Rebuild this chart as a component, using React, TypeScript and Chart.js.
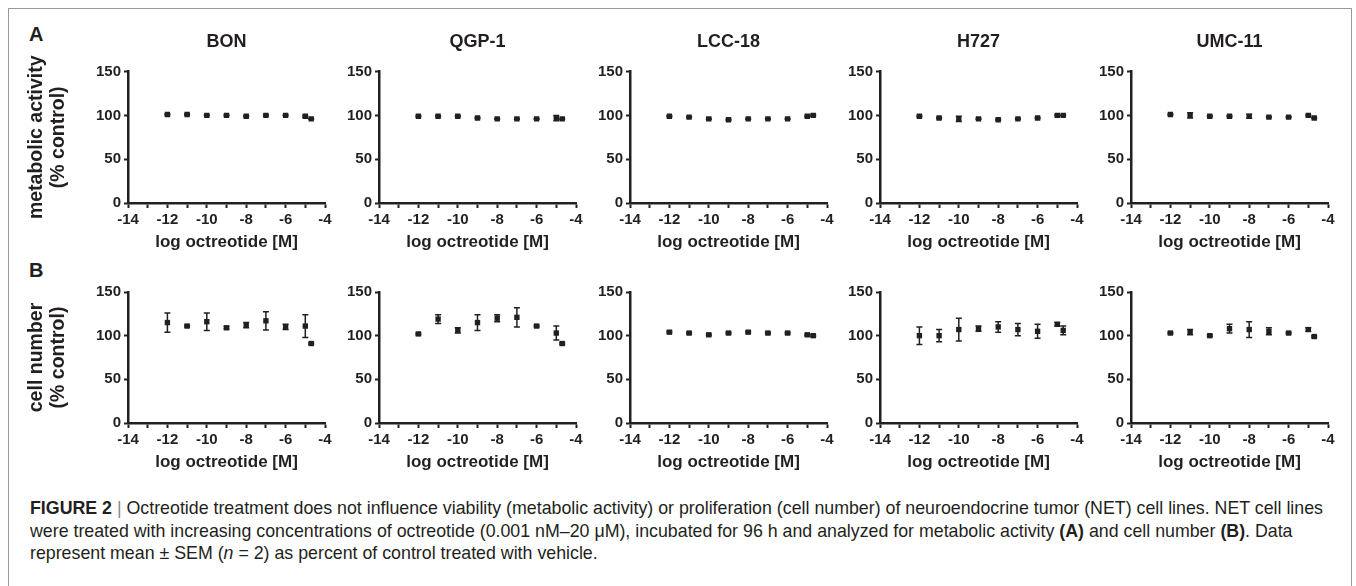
import React, { useEffect, useRef } from "react";
import { Chart, registerables } from "chart.js";

Chart.register(...registerables);

// ---------- data ----------
const cellLines = ["BON", "QGP-1", "LCC-18", "H727", "UMC-11"];
const logConc = [-12, -11, -10, -9, -8, -7, -6, -5, -4.7];
const xMin = -14;
const xMax = -4;
const yMax = 150;

// A: metabolic activity (% control), mean and SEM
const metabolicBON = [101, 101, 100, 100, 99, 100, 100, 99, 96];
const metabolicBONSem = [0.5, 0.5, 0.5, 0.5, 0.5, 0.5, 0.5, 1, 0.5];
const metabolicQGP1 = [99, 99, 99, 97, 96, 96, 96, 97, 96];
const metabolicQGP1Sem = [0.5, 0.5, 0.5, 0.5, 0.5, 0.5, 0.5, 3, 0.5];
const metabolicLCC18 = [99, 98, 96, 95, 96, 96, 96, 99, 100];
const metabolicLCC18Sem = [0.5, 0.5, 0.5, 0.5, 0.5, 0.5, 0.5, 0.5, 1];
const metabolicH727 = [99, 97, 96, 96, 95, 96, 97, 100, 100];
const metabolicH727Sem = [0.5, 0.5, 3, 0.5, 0.5, 0.5, 0.5, 0.5, 0.5];
const metabolicUMC11 = [101, 100, 99, 99, 99, 98, 98, 100, 97];
const metabolicUMC11Sem = [0.5, 3, 0.5, 0.5, 2, 0.5, 0.5, 0.5, 0.5];

// B: cell number (% control), mean and SEM
const cellBON = [115, 111, 116, 109, 112, 117, 110, 111, 91];
const cellBONSem = [11, 1, 10, 1.5, 3, 10.5, 3, 13, 1];
const cellQGP1 = [102, 119, 106, 115, 120, 121, 111, 103, 91];
const cellQGP1Sem = [1, 5, 3, 9, 4, 11, 1, 8, 1];
const cellLCC18 = [104, 103, 101, 103, 104, 103, 103, 101, 100];
const cellLCC18Sem = [1, 1, 1, 1, 1, 1, 1, 1, 1];
const cellH727 = [100, 100, 107, 108, 110, 107, 105, 113, 106];
const cellH727Sem = [10, 7, 13, 3, 6, 7, 8, 2, 5];
const cellUMC11 = [103, 104, 100, 108, 107, 105, 103, 107, 99];
const cellUMC11Sem = [1, 3, 1, 5, 9, 4, 1, 2, 1];

const metabolicMeans = [metabolicBON, metabolicQGP1, metabolicLCC18, metabolicH727, metabolicUMC11];
const metabolicSems = [metabolicBONSem, metabolicQGP1Sem, metabolicLCC18Sem, metabolicH727Sem, metabolicUMC11Sem];
const cellMeans = [cellBON, cellQGP1, cellLCC18, cellH727, cellUMC11];
const cellSems = [cellBONSem, cellQGP1Sem, cellLCC18Sem, cellH727Sem, cellUMC11Sem];

// ---------- style ----------
const INK = "#231f20";
const FONT = "'Liberation Sans', Arial, Helvetica, sans-serif";
Chart.defaults.font.family = FONT;
Chart.defaults.color = INK;

const axisXs = [128, 379, 630, 880, 1131];
const PLOT_W = 197;
const RIGHT_PAD = 20;
const X_AXIS_H = 50;

const errorBarPlugin = {
  id: "errorBars",
  beforeDatasetsDraw(chart: any) {
    const ctx = chart.ctx;
    const xs = chart.scales.x;
    const ys = chart.scales.y;
    chart.data.datasets.forEach((ds: any) => {
      if (!ds.errorBars) return;
      ctx.save();
      ctx.strokeStyle = INK;
      ctx.lineWidth = 1.5;
      ds.data.forEach((p: any, i: number) => {
        const e = ds.errorBars[i];
        if (!e) return;
        const px = xs.getPixelForValue(p.x);
        const top = ys.getPixelForValue(p.y + e);
        const bot = ys.getPixelForValue(p.y - e);
        ctx.beginPath();
        ctx.moveTo(px, top);
        ctx.lineTo(px, bot);
        ctx.moveTo(px - 3, top);
        ctx.lineTo(px + 3, top);
        ctx.moveTo(px - 3, bot);
        ctx.lineTo(px + 3, bot);
        ctx.stroke();
      });
      ctx.restore();
    });
  },
};

type PanelProps = {
  index: number;
  row: "A" | "B";
  title?: string;
  yTitle?: string[];
  means: number[];
  sems: number[];
};

function Panel({ index, row, title, yTitle, means, sems }: PanelProps) {
  const ref = useRef<HTMLCanvasElement | null>(null);
  const yW = index === 0 ? 108 : 60;
  const axisX = axisXs[index];
  const left = axisX - yW;
  const width = yW + PLOT_W + RIGHT_PAD;
  const top = row === "A" ? 20 : 270;
  const height = row === "A" ? 233 : 203;

  useEffect(() => {
    if (!ref.current) return;
    const chart = new Chart(ref.current, {
      type: "scatter",
      data: {
        datasets: [
          {
            data: logConc.map((x, i) => ({ x, y: means[i] })),
            errorBars: sems,
            pointStyle: "rect",
            pointRadius: 3.8,
            pointHoverRadius: 3.8,
            backgroundColor: INK,
            borderColor: INK,
            borderWidth: 0,
          } as any,
        ],
      },
      options: {
        responsive: false,
        animation: false,
        devicePixelRatio: 1,
        events: [],
        layout: { padding: { top: row === "A" ? 0 : 22, right: RIGHT_PAD, bottom: 0, left: 0 } },
        plugins: {
          legend: { display: false },
          tooltip: { enabled: false },
          title: {
            display: !!title,
            text: title || "",
            fullSize: false,
            color: INK,
            font: { size: 18, weight: "bold", lineHeight: 1.2 },
            padding: { top: 11, bottom: 19 },
          },
        },
        scales: {
          x: {
            type: "linear",
            min: xMin,
            max: xMax,
            afterFit: (s: any) => {
              s.height = X_AXIS_H;
            },
            grid: { drawOnChartArea: false, drawTicks: true, tickLength: 5, tickWidth: 2, color: INK },
            border: { display: true, width: 2.5, color: INK },
            ticks: {
              stepSize: 1,
              autoSkip: false,
              maxRotation: 0,
              padding: 3,
              color: INK,
              font: { size: 15, weight: "bold" },
              callback: (v: any) => (Number(v) % 2 === 0 ? String(v) : ""),
            },
            title: {
              display: true,
              text: "log octreotide [M]",
              color: INK,
              font: { size: 17, weight: "bold", lineHeight: 1.2 },
              padding: { top: 0, bottom: 0 },
            },
          },
          y: {
            type: "linear",
            min: 0,
            max: yMax,
            afterFit: (s: any) => {
              s.width = yW;
            },
            grid: { drawOnChartArea: false, drawTicks: true, tickLength: 4, tickWidth: 2, color: INK },
            border: { display: true, width: 2.5, color: INK },
            ticks: {
              stepSize: 50,
              padding: 3,
              color: INK,
              font: { size: 15, weight: "bold" },
            },
            title: {
              display: !!yTitle,
              text: yTitle || "",
              color: INK,
              font: { size: 19.5, weight: "bold", lineHeight: 1.13 },
              padding: { top: 6, bottom: 0 },
            },
          },
        },
      } as any,
      plugins: [errorBarPlugin],
    });
    return () => chart.destroy();
  }, []);

  return (
    <canvas
      ref={ref}
      width={width}
      height={height}
      style={{ position: "absolute", left, top, width, height }}
    />
  );
}

const captionStyle: React.CSSProperties = {
  position: "absolute",
  left: 30,
  whiteSpace: "nowrap",
  fontFamily: FONT,
  fontSize: 17.8,
  lineHeight: "22px",
  color: INK,
};

export default function App() {
  return (
    <div style={{ position: "absolute", left: 0, top: 0, width: 1356, height: 586, overflow: "hidden", background: "#fff" }}>
      <div
        style={{
          position: "absolute",
          left: 8,
          top: 8,
          width: 1344,
          height: 600,
          border: "1px solid #9a9a9a",
          boxSizing: "border-box",
        }}
      />
      <div style={{ position: "absolute", left: 29, top: 22, fontFamily: FONT, fontWeight: "bold", fontSize: 20, lineHeight: "24px", color: INK }}>A</div>
      <div style={{ position: "absolute", left: 29, top: 258, fontFamily: FONT, fontWeight: "bold", fontSize: 20, lineHeight: "24px", color: INK }}>B</div>
      {cellLines.map((name, i) => (
        <Panel
          key={"A" + i}
          index={i}
          row="A"
          title={name}
          yTitle={i === 0 ? ["metabolic activity", "(% control)"] : undefined}
          means={metabolicMeans[i]}
          sems={metabolicSems[i]}
        />
      ))}
      {cellLines.map((name, i) => (
        <Panel
          key={"B" + i}
          index={i}
          row="B"
          yTitle={i === 0 ? ["cell number", "(% control)"] : undefined}
          means={cellMeans[i]}
          sems={cellSems[i]}
        />
      ))}
      <div style={{ ...captionStyle, top: 497 }}>
        <b>FIGURE 2</b> <span style={{ color: "#888" }}>|</span> Octreotide treatment does not influence viability (metabolic activity) or proliferation (cell number) of neuroendocrine tumor (NET) cell lines. NET cell lines
      </div>
      <div style={{ ...captionStyle, top: 520 }}>
        were treated with increasing concentrations of octreotide (0.001 nM–20 μM), incubated for 96 h and analyzed for metabolic activity <b>(A)</b> and cell number <b>(B)</b>. Data
      </div>
      <div style={{ ...captionStyle, top: 542 }}>
        represent mean ± SEM (<i>n</i> = 2) as percent of control treated with vehicle.
      </div>
    </div>
  );
}
